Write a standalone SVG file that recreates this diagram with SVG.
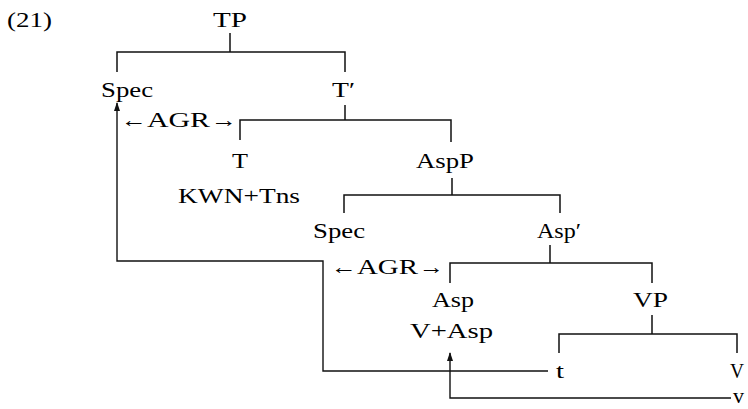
<svg xmlns="http://www.w3.org/2000/svg" width="748" height="409" viewBox="0 0 748 409">
<style>
text{font-family:"Liberation Serif","Times New Roman",serif;font-size:22px;fill:#000;}
.ln{fill:none;stroke:#111;stroke-width:1.5;}
.mv{fill:none;stroke:#111;stroke-width:1.4;}
</style>
<defs>
<marker id="ah" viewBox="0 0 9 6" refX="8" refY="3" markerWidth="9" markerHeight="6" markerUnits="userSpaceOnUse" orient="auto">
<path d="M0,0 L9,3 L0,6 Z" fill="#111"/>
</marker>
</defs>
<rect width="748" height="409" fill="#fff"/>
<g id="label"><text x="7" y="27" textLength="45" lengthAdjust="spacingAndGlyphs">(21)</text></g>
<g id="n-TP"><text x="213" y="27" textLength="34" lengthAdjust="spacingAndGlyphs">TP</text></g>
<g id="n-Spec1"><text x="101" y="97" textLength="52" lengthAdjust="spacingAndGlyphs">Spec</text></g>
<g id="n-Tbar"><text x="332" y="97" textLength="23" lengthAdjust="spacingAndGlyphs">T′</text></g>
<g id="n-AGR1"><text x="121" y="127" textLength="26" lengthAdjust="spacingAndGlyphs">←</text><text x="147" y="127" textLength="63" lengthAdjust="spacingAndGlyphs">AGR</text><text x="211" y="127" textLength="26" lengthAdjust="spacingAndGlyphs">→</text></g>
<g id="n-T"><text x="232" y="168" textLength="16" lengthAdjust="spacingAndGlyphs">T</text><text x="178" y="203" textLength="122" lengthAdjust="spacingAndGlyphs">KWN+Tns</text></g>
<g id="n-AspP"><text x="416" y="168" textLength="58" lengthAdjust="spacingAndGlyphs">AspP</text></g>
<g id="n-Spec2"><text x="313" y="238" textLength="52" lengthAdjust="spacingAndGlyphs">Spec</text></g>
<g id="n-Aspbar"><text x="537" y="238" textLength="44" lengthAdjust="spacingAndGlyphs">Asp′</text></g>
<g id="n-AGR2"><text x="331" y="274" textLength="26" lengthAdjust="spacingAndGlyphs">←</text><text x="357" y="274" textLength="61" lengthAdjust="spacingAndGlyphs">AGR</text><text x="419" y="274" textLength="25" lengthAdjust="spacingAndGlyphs">→</text></g>
<g id="n-Asp"><text x="432" y="307" textLength="42" lengthAdjust="spacingAndGlyphs">Asp</text><text x="410" y="338" textLength="83" lengthAdjust="spacingAndGlyphs">V+Asp</text></g>
<g id="n-VP"><text x="633" y="307" textLength="35" lengthAdjust="spacingAndGlyphs">VP</text></g>
<g id="n-t"><text x="556" y="378" textLength="8" lengthAdjust="spacingAndGlyphs">t</text></g>
<g id="n-V"><text x="730" y="378" textLength="14" lengthAdjust="spacingAndGlyphs">V</text></g>
<g id="n-v"><text x="733" y="403" textLength="11" lengthAdjust="spacingAndGlyphs">v</text></g>
<g id="connectors">
<path class="ln" d="M230,33 V52 M117,72 V52 H345 V72"/>
<path class="ln" d="M345,105 V120 M240,140 V120 H451 V142"/>
<path class="ln" d="M452,178 V195 M344,213 V195 H560 V213"/>
<path class="ln" d="M550,245 V263 M450,283 V263 H652 V283"/>
<path class="ln" d="M652,315 V334 M559,353 V334 H737 V353"/>
<path class="mv" d="M548,371 H323 V261 H117 V103" marker-end="url(#ah)"/>
<path class="mv" d="M731,398 H450 V353" marker-end="url(#ah)"/>
</g>
</svg>
